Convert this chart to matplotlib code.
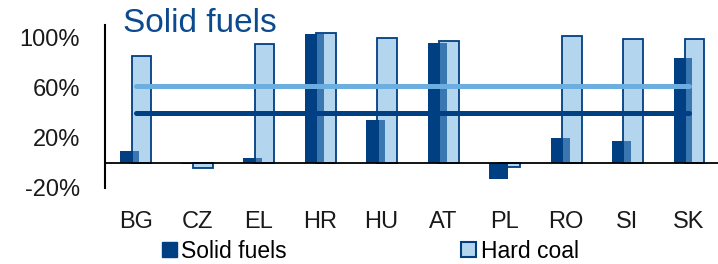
import matplotlib.pyplot as plt
from matplotlib.patches import Patch

plt.rcParams['font.family'] = ['Liberation Sans', 'DejaVu Sans']

countries = ['BG', 'CZ', 'EL', 'HR', 'HU', 'AT', 'PL', 'RO', 'SI', 'SK']
solid_fuels = [9, -1, 3.5, 103, 34, 96, -13, 20, 17, 84]
hard_coal = [85, -4.5, 94.5, 103.5, 100, 97.5, -3.5, 101.5, 99, 98.5]
avg_hard_coal = 61.5
avg_solid_fuels = 40

dark = '#003f82'
side = '#3a76b0'
light = '#b4d5ee'
light_line = '#6caee0'
title_col = '#0b4a8e'

fig = plt.figure(figsize=(7.18, 2.64), dpi=100)
ax = fig.add_axes([105 / 718, 1 - 187.5 / 264, 614.7 / 718, 162.5 / 264])

x = list(range(len(countries)))

# hard coal bars (behind), then dark front face + shaded side
ax.bar([i + 0.0925 for i in x], hard_coal, width=0.319, color=light,
       edgecolor=dark, linewidth=1.3, zorder=2)
ax.bar([i - 0.1495 for i in x], solid_fuels, width=0.199, color=dark,
       linewidth=0, zorder=3)
side_cols = [side if v >= 0 else dark for v in solid_fuels]
ax.bar([i + 0.0035 for i in x], solid_fuels, width=0.107, color=side_cols,
       linewidth=0, zorder=3)

# EU averages
ax.plot([0, 9], [avg_hard_coal] * 2, color=light_line, lw=3.6,
        solid_capstyle='round', zorder=5)
ax.plot([0, 9], [avg_solid_fuels] * 2, color=dark, lw=3.6,
        solid_capstyle='round', zorder=5)

ax.axhline(0, color='black', lw=1.3, zorder=6)

ax.set_xlim(-0.5, 9.5)
ax.set_ylim(-20, 110)
ax.set_yticks([-20, 20, 60, 100])
ax.set_yticklabels(['-20%', '20%', '60%', '100%'])
ax.set_xticks(x)
ax.set_xticklabels(countries)
ax.tick_params(axis='y', length=0, pad=18, labelsize=17, colors='#1a1a1a')
ax.tick_params(axis='x', length=0, pad=17, labelsize=17, colors='#1a1a1a')

for s in ['top', 'right', 'bottom']:
    ax.spines[s].set_visible(False)
ax.spines['left'].set_linewidth(1.5)
ax.spines['left'].set_color('black')

fig.text(123 / 718, 1 - 32 / 264, 'Solid fuels', fontsize=24, color=title_col,
         va='baseline', ha='left')

handles = [Patch(facecolor=dark, edgecolor=dark),
           Patch(facecolor=light, edgecolor=dark, linewidth=1.5)]
fig.legend(handles, ['Solid fuels', 'Hard coal'], loc='center left',
           bbox_to_anchor=(162 / 718, 1 - 251 / 264), ncol=2, frameon=False,
           borderpad=0, borderaxespad=0, handlelength=0.65, handleheight=0.65,
           handletextpad=0.2, columnspacing=7.6, fontsize=16.5)

fig.savefig('out.png', dpi=100)
